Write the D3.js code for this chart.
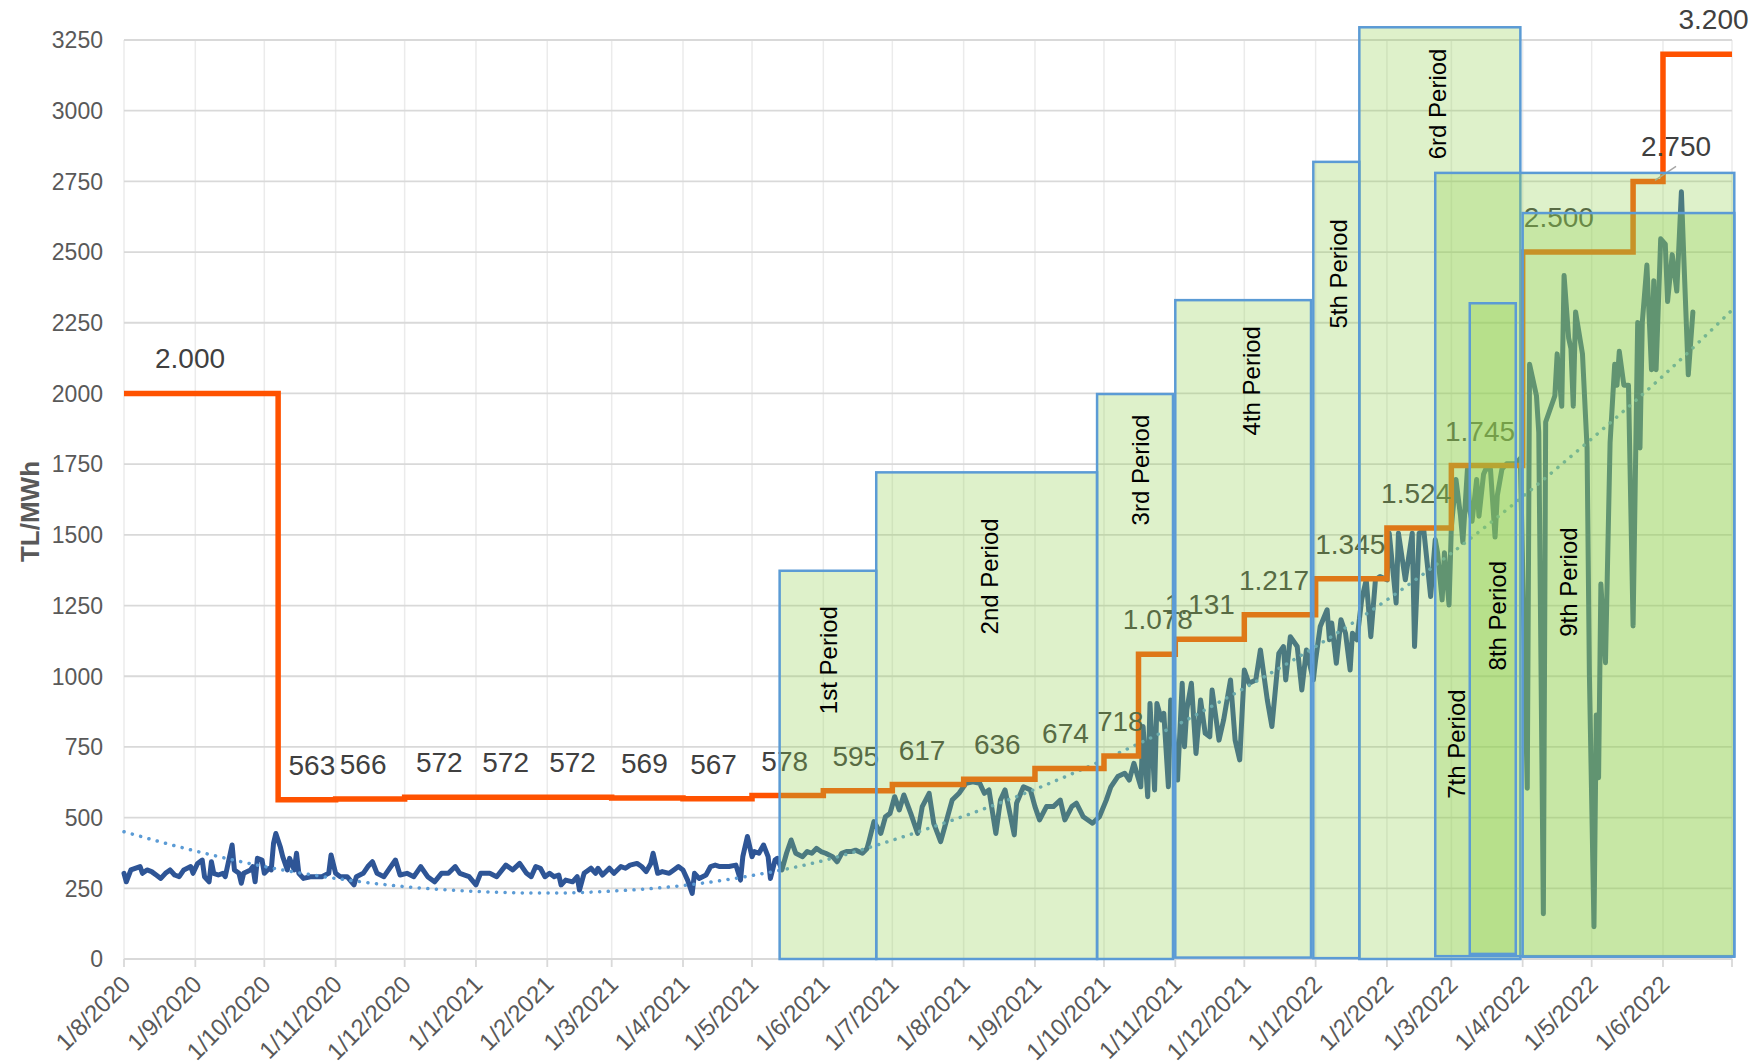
<!DOCTYPE html>
<html>
<head>
<meta charset="utf-8">
<script src="https://cdn.jsdelivr.net/npm/d3@7"></script>
<style>
  html, body { margin: 0; padding: 0; background: #fff; }
  svg { display: block; font-family: "Liberation Sans", Arial, sans-serif; }
</style>
</head>
<body>
<svg id="chart" width="1755" height="1064"></svg>
<script>
// ---- data ----
const firstDay = new Date(2020, 7, 1);   // 1/8/2020
const lastDay = new Date(2022, 6, 1);    // 1/7/2022

// daily spot price, [days since 1/8/2020, TL/MWh]
const spotPoints = [
  [0,303],[1,273],[3,315],[7,327],[8,303],[10,315],[12,309],[14,297],[16,285],[18,303],[20,315],[22,297],
  [24,291],[26,315],[29,327],[30,303],[32,338],[34,350],[35,291],[37,273],[38,344],[39,303],[41,297],[43,303],
  [44,291],[47,403],[48,315],[50,303],[51,268],[52,303],[55,315],[56,327],[57,273],[58,356],[60,350],[61,303],
  [63,320],[64,315],[65,409],[66,444],[68,395],[69,362],[71,315],[72,356],[74,315],[75,374],[76,303],[78,285],
  [81,291],[84,291],[86,291],[89,303],[90,368],[92,303],[94,291],[97,291],[100,262],[101,291],[104,303],[106,327],
  [108,344],[110,303],[113,291],[115,315],[118,350],[120,297],[123,303],[126,291],[129,327],[132,291],[135,273],
  [138,303],[141,303],[144,327],[146,303],[150,291],[153,262],[155,303],[159,303],[162,291],[166,332],[169,315],
  [172,338],[175,303],[177,291],[179,327],[181,321],[183,291],[185,303],[187,291],[189,297],[190,262],[192,279],
  [195,273],[197,291],[198,244],[200,303],[203,321],[205,303],[206,321],[208,297],[211,321],[213,303],[216,327],
  [218,321],[220,332],[223,338],[225,327],[227,309],[229,338],[230,374],[232,303],[234,309],[237,303],[239,315],
  [241,327],[243,315],[245,279],[247,232],[248,303],[250,285],[253,297],[255,327],[257,332],[259,327],[261,327],
  [263,327],[266,332],[268,279],[269,362],[271,433],[273,362],[274,380],[276,374],[278,403],[280,362],[281,285],
  [283,350],[284,356],[286,315],[288,374],[290,421],[292,374],[295,362],[297,380],[299,374],[301,391],[303,380],
  [305,374],[308,362],[310,344],[312,374],[314,380],[316,380],[318,385],[321,374],[323,391],[324,421],[326,486],
  [329,444],[331,503],[333,515],[335,574],[337,527],[339,580],[342,515],[345,444],[347,539],[350,586],[352,480],
  [355,415],[358,503],[360,562],[363,586],[366,621],[369,627],[372,621],[374,586],[376,598],[379,444],[381,562],
  [383,598],[387,439],[388,551],[391,609],[394,598],[396,539],[398,492],[401,539],[404,539],[407,562],[409,492],
  [412,539],[414,551],[417,503],[421,480],[424,503],[427,562],[429,609],[432,645],[435,657],[437,633],[439,692],
  [442,609],[443,822],[445,574],[446,904],[448,598],[449,904],[451,845],[452,869],[454,609],[455,916],[458,633],
  [460,975],[461,751],[462,881],[464,975],[466,727],[468,916],[470,798],[472,786],[473,951],[476,774],[478,845],
  [481,987],[483,774],[485,704],[487,1022],[489,975],[492,987],[494,1093],[497,916],[499,822],[502,1081],[504,1105],
  [505,987],[507,1140],[510,1105],[512,951],[514,1093],[517,987],[518,1058],[520,1176],[523,1235],[524,1129],
  [525,1188],[527,1046],[529,1200],[531,1152],[533,1022],[534,1152],[536,1129],[538,1270],[540,1341],[542,1140],
  [544,1341],[546,1353],[549,1341],[550,1506],[553,1259],[554,1506],[557,1341],[560,1506],[561,1105],[563,1506],
  [565,1518],[568,1282],[570,1483],[571,1437],[573,1270],[574,1437],[576,1252],[577,1529],[579,1696],[581,1566],
  [582,1474],[584,1733],[585,1585],[586,1548],[588,1696],[589,1566],[591,1714],[592,1733],[594,1733],[596,1492],
  [597,1640],[599,1733],[601,1751],[605,1751],[607,1770],[610,604],[611,2103],[614,1992],[615,1862],[617,160],
  [618,1899],[622,1992],[623,2140],[625,1955],[626,2417],[628,2195],[629,2158],[630,1955],[631,2288],[634,2140],
  [636,1807],[637,1011],[639,114],[640,863],[641,641],[642,1326],[644,1048],[646,1825],[648,2103],[649,2029],
  [650,2149],[652,2029],[654,2029],[656,1178],[658,2251],[659,1807],[660,2251],[662,2454],[664,2084],[665,2399],
  [666,2084],[668,2547],[670,2528],[671,2325],[673,2491],[675,2362],[677,2713],[678,2491],[680,2066],[682,2288]
];

// dotted trend of the spot price
const trendDays = [0,31,61,92,122,153,184,212,243,273,304,334,365,396,426,457,487,518,549,577,608,638,669,699];
const trendValues = [450,382,327,285,256,239,233,240,260,295,348,420,505,600,705,825,958,1105,1270,1435,1635,1840,2062,2295];

// monthly regulated price (step line) and its labels
const tariffStarts = ["2020-08-01","2020-10-07","2020-11-01","2020-12-01","2021-01-01","2021-02-01","2021-03-01",
  "2021-04-01","2021-05-01","2021-06-01","2021-07-01","2021-08-01","2021-09-01","2021-10-01","2021-10-16",
  "2021-11-01","2021-12-01","2022-01-01","2022-02-01","2022-03-01","2022-04-01","2022-05-19","2022-06-01"];
const tariffValues = [2000,563,566,572,572,572,569,567,578,595,617,636,674,718,1078,1131,1217,1345,1524,1745,2500,2750,3200];

// shaded periods
const periodNames = ["1st Period","2nd Period","3rd Period","4th Period","5th Period","6rd Period","7th Period","8th Period","9th Period"];
const periodStarts = ["2021-05-13","2021-06-24","2021-09-28","2021-11-01","2021-12-31","2022-01-20","2022-02-22","2022-03-09","2022-04-01"];
const periodEnds = ["2021-06-24","2021-09-28","2021-10-31","2021-12-30","2022-01-20","2022-03-31","2022-07-02","2022-03-29","2022-07-02"];
const periodLows = [0,0,0,5,3,0,10,18,8];
const periodHighs = [1373,1721,1998,2330,2819,3295,2780,2319,2638];

const yTicks = d3.range(0, 3251, 250);

// ---- layout ----
const W = 1755, H = 1064;
const margin = {left: 124, right: 22, top: 40, bottom: 105};
const parse = d3.timeParse("%Y-%m-%d");
const dayDate = d => d3.timeDay.offset(firstDay, d);
const fmtTL = d3.formatLocale({decimal: ",", thousands: ".", grouping: [3], currency: ["", ""]}).format(",");

const x = d3.scaleTime().domain([firstDay, lastDay]).range([margin.left, W - margin.right - 1]);
const y = d3.scaleLinear().domain([0, 3250]).range([H - margin.bottom, margin.top]);

// label placement tweaks (pixels, by step index) and period label anchors
const labelShift = [-11, 5, -7, -1, -6, -7, -3, -4, -3, -2, -6, -2, -4, -1, 1, -10, -6, -1, -3, -7, -19, 28, 16];
const periodLabelDates = ["2021-06-03","2021-08-12","2021-10-17","2021-12-04","2022-01-11","2022-02-23","2022-03-03","2022-03-21","2022-04-21"];
const periodLabelLevels = [1057,1353,1729,2045,2423,3024,760,1214,1333];

const svg = d3.select("#chart");
svg.append("rect").attr("width", W).attr("height", H).attr("fill", "#fff");

const months = d3.timeMonth.range(firstDay, d3.timeDay.offset(lastDay, 1));

// gridlines
svg.append("g").selectAll("line").data(months).join("line")
  .attr("x1", d => x(d)).attr("x2", d => x(d))
  .attr("y1", y(3250)).attr("y2", y(0))
  .attr("stroke", "#ebebeb").attr("stroke-width", 1.5);
svg.append("g").selectAll("line").data(yTicks).join("line")
  .attr("x1", x(firstDay)).attr("x2", x(lastDay))
  .attr("y1", d => y(d)).attr("y2", d => y(d))
  .attr("stroke", "#d9d9d9").attr("stroke-width", 1.8);

// month tick marks
svg.append("g").selectAll("line").data(months).join("line")
  .attr("x1", d => x(d)).attr("x2", d => x(d))
  .attr("y1", y(0)).attr("y2", y(0) + 8)
  .attr("stroke", "#d9d9d9").attr("stroke-width", 1.8);

// y tick labels
svg.append("g").selectAll("text").data(yTicks).join("text")
  .attr("x", margin.left - 21).attr("y", d => y(d))
  .attr("dy", "0.36em").attr("text-anchor", "end")
  .attr("font-size", 23).attr("fill", "#595959")
  .text(d => d);

// x tick labels
svg.append("g").selectAll("text").data(months.slice(0, -1)).join("text")
  .attr("transform", d => `translate(${x(d) - 4},${y(0) + 15}) rotate(-45)`)
  .attr("text-anchor", "end").attr("dy", "0.7em")
  .attr("font-size", 24).attr("fill", "#595959")
  .text(d => `1/${d.getMonth() + 1}/${d.getFullYear()}`);

// y axis title
svg.append("text")
  .attr("transform", `translate(30,${(y(0) + y(3250)) / 2 + 12}) rotate(-90)`)
  .attr("text-anchor", "middle").attr("dy", "0.36em")
  .attr("font-size", 26).attr("font-weight", "bold").attr("fill", "#595959")
  .text("TL/MWh");

// spot price
svg.append("path").datum(spotPoints)
  .attr("fill", "none").attr("stroke", "#2e5596").attr("stroke-width", 5)
  .attr("stroke-linejoin", "round").attr("stroke-linecap", "round")
  .attr("d", d3.line().x(d => x(dayDate(d[0]))).y(d => y(d[1])));

// trend
svg.append("path").datum(d3.zip(trendDays, trendValues))
  .attr("fill", "none").attr("stroke", "#5b9bd5").attr("stroke-width", 3.5)
  .attr("stroke-linecap", "round").attr("stroke-dasharray", "0.1 8.5")
  .attr("d", d3.line().curve(d3.curveMonotoneX).x(d => x(dayDate(d[0]))).y(d => y(d[1])));

// regulated price steps
const tariff = tariffStarts.map((s, i) => ({start: parse(s), end: i + 1 < tariffStarts.length ? parse(tariffStarts[i + 1]) : lastDay, value: tariffValues[i]}));
svg.append("path").datum(tariff.map(d => [d.start, d.value]).concat([[lastDay, tariffValues[tariffValues.length - 1]]]))
  .attr("fill", "none").attr("stroke", "#ff5200").attr("stroke-width", 5.5)
  .attr("d", d3.line().curve(d3.curveStepAfter).x(d => x(d[0])).y(d => y(d[1])));

// step labels
const labelX = (d, i) => (x(d.start) + x(d.end)) / 2 + labelShift[i];
svg.append("g").selectAll("text").data(tariff).join("text")
  .attr("x", labelX).attr("y", d => y(d.value) - 25)
  .attr("text-anchor", "middle").attr("font-size", 28).attr("fill", "#404040")
  .text(d => fmtTL(d.value));

// leader line for 2.750
const t21 = tariff[21];
svg.append("line")
  .attr("x1", x(t21.end) - 8).attr("y1", y(t21.value) - 1)
  .attr("x2", labelX(t21, 21)).attr("y2", y(t21.value) - 15)
  .attr("stroke", "#a6a6a6").attr("stroke-width", 1.5);

// period boxes
const periods = periodNames.map((name, i) => ({
  name, start: parse(periodStarts[i]), end: parse(periodEnds[i]), low: periodLows[i], high: periodHighs[i],
  labelDate: parse(periodLabelDates[i]), labelLevel: periodLabelLevels[i]
}));
svg.append("g").selectAll("rect").data(periods).join("rect")
  .attr("x", d => x(d.start)).attr("y", d => y(d.high))
  .attr("width", d => x(d.end) - x(d.start)).attr("height", d => y(d.low) - y(d.high))
  .attr("fill", "rgba(146,208,80,0.3)")
  .attr("stroke", "#5b9bd5").attr("stroke-width", 2.5);

svg.append("g").selectAll("text").data(periods).join("text")
  .attr("transform", d => `translate(${x(d.labelDate)},${y(d.labelLevel)}) rotate(-90)`)
  .attr("text-anchor", "middle").attr("dy", "0.36em")
  .attr("font-size", 24).attr("fill", "#000")
  .text(d => d.name);
</script>
</body>
</html>
